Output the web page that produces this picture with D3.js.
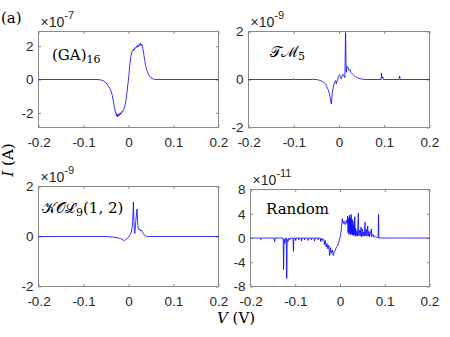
<!DOCTYPE html>
<html>
<head>
<meta charset="utf-8">
<script src="https://cdn.jsdelivr.net/npm/d3@7"></script>
<style>
  body { margin:0; background:#fff; }
  .tick text { font-family:"Liberation Sans", Arial, sans-serif; font-size:13.5px; fill:#262626; }
  .lbl { font-family:"DejaVu Serif", serif; fill:#000; }
</style>
</head>
<body>
<div id="chart"></div>
<script>
// ---- data (V in volts, I in units of 10^exp A) ----
const xTicks = [-0.2, -0.1, 0, 0.1, 0.2];
const xDomain = [-0.2, 0.2];

const gaTicks = [-2, 0, 2];
const gaDomain = [-2.88, 2.88];
const gaData = [
  [-0.2,0],[-0.07,0],[-0.062,-0.02],[-0.056,-0.08],[-0.05,-0.2],[-0.045,-0.38],[-0.04,-0.6],[-0.036,-0.95],
  [-0.033,-1.4],[-0.031,-1.7],[-0.029,-1.95],[-0.027,-2.15],[-0.026,-2.05],[-0.025,-2.25],[-0.024,-2.12],
  [-0.023,-2.2],[-0.021,-2.05],[-0.02,-2.15],[-0.018,-2.0],[-0.017,-2.08],[-0.015,-1.92],[-0.013,-1.95],
  [-0.011,-1.8],[-0.009,-1.7],[-0.007,-1.45],[-0.005,-1.1],[-0.003,-0.7],[-0.001,-0.2],[0.001,0.3],
  [0.003,0.9],[0.005,1.35],[0.007,1.6],[0.009,1.72],[0.011,1.82],[0.012,1.75],[0.014,1.9],[0.016,1.88],
  [0.018,2.0],[0.019,1.93],[0.021,2.05],[0.022,1.98],[0.024,2.12],[0.025,2.02],[0.027,2.18],[0.028,2.05],
  [0.03,2.1],[0.032,1.85],[0.034,1.5],[0.036,1.15],[0.038,0.85],[0.04,0.6],[0.043,0.4],[0.046,0.22],
  [0.05,0.1],[0.055,0.03],[0.06,0],[0.2,0]
];

const tmTicks = [-2, 0, 2];
const tmDomain = [-2, 2];
const tmData = [
  [-0.2,0],[-0.101,0],[-0.1,0.04],[-0.099,0],[-0.06,0],[-0.059,0.03],[-0.058,0],[-0.05,0],[-0.045,-0.02],
  [-0.04,-0.05],[-0.035,-0.1],[-0.03,-0.18],[-0.027,-0.3],[-0.024,-0.42],[-0.021,-0.6],[-0.019,-0.8],
  [-0.017,-1.02],[-0.016,-0.85],[-0.015,-0.6],[-0.013,-0.35],[-0.011,-0.2],[-0.009,-0.08],[-0.007,-0.05],
  [-0.006,-0.18],[-0.005,-0.12],[-0.003,0.0],[-0.001,0.12],[0.001,0.2],[0.003,0.12],[0.005,0.03],
  [0.007,0.15],[0.009,0.22],[0.011,0.15],[0.013,0.08],[0.0145,1.95],[0.016,0.3],[0.018,0.55],[0.02,0.5],
  [0.022,0.38],[0.024,0.42],[0.026,0.3],[0.03,0.22],[0.034,0.15],[0.038,0.1],[0.044,0.05],[0.05,0.02],
  [0.056,0],[0.093,0],[0.094,0.27],[0.095,0.05],[0.097,0.1],[0.098,0],[0.133,0],[0.134,0.15],[0.135,0],[0.2,0]
];

const kolTicks = [-2, 0, 2];
const kolDomain = [-2, 2];
const kolData = [
  [-0.2,0],[-0.045,0],[-0.035,-0.02],[-0.025,-0.05],[-0.018,-0.08],[-0.012,-0.14],[-0.009,-0.17],
  [-0.006,-0.12],[-0.003,-0.08],[0,-0.02],[0.003,0.05],[0.006,0.15],[0.008,0.35],[0.009,0.55],[0.010,0.9],
  [0.011,1.38],[0.012,0.6],[0.013,0.2],[0.014,0.12],[0.015,0.3],[0.016,0.6],[0.017,0.75],[0.018,0.95],
  [0.019,1.1],[0.020,0.7],[0.021,0.35],[0.023,0.28],[0.025,0.3],[0.027,0.22],[0.029,0.25],[0.031,0.18],
  [0.033,0.12],[0.035,0.06],[0.038,0.02],[0.042,0],[0.2,0]
];

const rndTicks = [-8, -4, 0, 4, 8];
const rndDomain = [-8, 8];
const rndData = [
  [-0.2,0],[-0.178,0],[-0.177,-0.25],[-0.176,0],[-0.147,0],[-0.146,-0.6],[-0.145,0],
  [-0.127,0],[-0.126,-5.2],[-0.125,-0.2],[-0.123,-0.9],[-0.122,0],[-0.120,0],[-0.119,-6.7],[-0.118,-0.2],
  [-0.116,-0.6],[-0.115,0],[-0.112,-0.3],[-0.111,0],[-0.105,0],[-0.104,-2.2],[-0.103,0],
  [-0.100,0],[-0.099,-0.4],[-0.098,0],[-0.093,0],[-0.092,-0.3],[-0.091,0],[-0.087,0],[-0.086,-0.5],[-0.085,0],
  [-0.080,0],[-0.079,-0.3],[-0.078,0],[-0.072,0],[-0.071,-0.4],[-0.070,0],[-0.065,0],[-0.064,-0.3],[-0.063,0],
  [-0.058,0],[-0.057,-0.5],[-0.056,0],[-0.050,0],[-0.049,-0.3],[-0.048,0],[-0.044,0],[-0.043,-0.6],[-0.042,-0.1],
  [-0.040,-0.4],[-0.038,-0.1],[-0.036,-0.3],[-0.035,-1.1],[-0.033,-0.4],[-0.031,-1.5],[-0.029,-0.9],[-0.027,-1.8],
  [-0.025,-1.2],[-0.023,-2.9],[-0.021,-1.6],[-0.019,-2.5],[-0.017,-2.0],[-0.015,-2.9],[-0.013,-2.3],[-0.011,-2.1],
  [-0.009,-1.7],[-0.007,-1.4],[-0.005,-1.3],[-0.003,-0.8],[-0.001,-0.2],[0.001,0.4],[0.003,1.5],[0.005,3.2],
  [0.007,2.4],[0.009,2.8],[0.010,2.5],[0.012,2.2],[0.014,2.9],[0.016,2.4],[0.017,3.6],[0.018,0.9],[0.019,3.2],
  [0.020,0.6],[0.021,3.8],[0.022,0.8],[0.023,3.4],[0.024,0.5],[0.025,3.9],[0.026,0.7],[0.027,3.1],[0.028,0.5],
  [0.029,2.8],[0.030,0.4],[0.031,2.2],[0.032,0.6],[0.033,3.5],[0.034,0.3],[0.035,1.6],[0.036,0.4],[0.038,1.2],
  [0.039,0.3],[0.041,4.1],[0.042,0.4],[0.044,1.3],[0.045,0.3],[0.047,1.8],[0.048,0.2],[0.050,1.5],[0.051,0.3],
  [0.053,1.0],[0.054,0.3],[0.056,2.6],[0.057,0.4],[0.059,1.4],[0.060,0.3],[0.062,2.0],[0.063,0.3],[0.065,1.1],
  [0.066,0.2],[0.068,0.8],[0.070,1.5],[0.071,0.2],[0.074,0.6],[0.076,0.1],[0.079,0.3],[0.082,0.1],[0.085,0],
  [0.086,3.9],[0.087,0],[0.2,0]
];

const panels = [
  {data:gaData,  yDom:gaDomain,  yTicks:gaTicks,  exp:"-7",  box:[38.5,218.5,31.5,127.5]},
  {data:tmData,  yDom:tmDomain,  yTicks:tmTicks,  exp:"-9",  box:[248.5,429.5,31.5,127.5]},
  {data:kolData, yDom:kolDomain, yTicks:kolTicks, exp:"-9",  box:[38.5,218.5,186.5,286.5]},
  {data:rndData, yDom:rndDomain, yTicks:rndTicks, exp:"-11", box:[250.5,429.5,189.5,286.5]}
];

const svg = d3.select("#chart").append("svg").attr("width",450).attr("height",337);
const fmt = d => d === 0 ? "0" : String(d);
const boxCol = "#8a8a8a";

panels.forEach(p=>{
  const [l,r,t,b] = p.box;
  const x = d3.scaleLinear().domain(xDomain).range([l,r]);
  const y = d3.scaleLinear().domain(p.yDom).range([b,t]);
  const g = svg.append("g");

  g.append("rect").attr("x",l).attr("y",t).attr("width",r-l).attr("height",b-t)
    .attr("fill","none").attr("stroke",boxCol).attr("stroke-width",1);

  const ax = [
    g.append("g").attr("transform",`translate(0,${b})`).call(d3.axisBottom(x).tickValues(xTicks).tickFormat(fmt).tickSize(-2.5).tickSizeOuter(0).tickPadding(9.5)),
    g.append("g").attr("transform",`translate(0,${t})`).call(d3.axisTop(x).tickValues(xTicks).tickFormat("").tickSize(-2.5).tickSizeOuter(0)),
    g.append("g").attr("transform",`translate(${l},0)`).call(d3.axisLeft(y).tickValues(p.yTicks).tickFormat(fmt).tickSize(-2.5).tickSizeOuter(0).tickPadding(5)),
    g.append("g").attr("transform",`translate(${r},0)`).call(d3.axisRight(y).tickValues(p.yTicks).tickFormat("").tickSize(-2.5).tickSizeOuter(0))
  ];
  ax.forEach(a=>{ a.select(".domain").remove(); a.selectAll(".tick line").attr("stroke",boxCol); a.attr("font-size",null).attr("font-family",null); });

  g.append("path").datum(p.data)
    .attr("d", d3.line().x(d=>x(d[0])).y(d=>y(d[1])))
    .attr("fill","none").attr("stroke","#0000ff").attr("stroke-width",0.8);

  // exponent label
  const e = g.append("text").attr("x",l+2).attr("y",t-5)
    .attr("font-family","Liberation Sans, Arial, sans-serif").attr("font-size",14).attr("fill","#262626");
  e.append("tspan").text("\u00d710");
  e.append("tspan").attr("dy",-8).attr("font-size",11).text(p.exp);
});

// panel names
const n1 = svg.append("text").attr("class","lbl").attr("x",52).attr("y",60).attr("font-size",15);
n1.append("tspan").text("(GA)");
n1.append("tspan").attr("dy",3).attr("font-size",11).text("16");

const n2 = svg.append("text").attr("class","lbl").attr("x",270).attr("y",57).attr("font-size",15);
n2.append("tspan").text("\u{1D4AF}\u2133");
n2.append("tspan").attr("dy",3).attr("font-size",11).text("5");

const n3 = svg.append("text").attr("class","lbl").attr("x",42).attr("y",213).attr("font-size",15);
n3.append("tspan").text("\u{1D4A6}\u{1D4AA}\u2112");
n3.append("tspan").attr("dy",3).attr("font-size",11).text("9");
n3.append("tspan").attr("dy",-3).text("(1, 2)");

svg.append("text").attr("class","lbl").attr("x",266).attr("y",214).attr("font-size",15).text("Random");

// axis titles
svg.append("text").attr("class","lbl").attr("x",1).attr("y",23).attr("font-size",15).text("(a)");

const yl = svg.append("text").attr("class","lbl").attr("transform","translate(13,160) rotate(-90)")
  .attr("text-anchor","middle").attr("font-size",15);
yl.append("tspan").attr("font-style","italic").text("I");
yl.append("tspan").text(" (A)");

const xl = svg.append("text").attr("class","lbl").attr("x",236).attr("y",323)
  .attr("text-anchor","middle").attr("font-size",15);
xl.append("tspan").attr("font-style","italic").text("V");
xl.append("tspan").text(" (V)");
</script>
</body>
</html>
